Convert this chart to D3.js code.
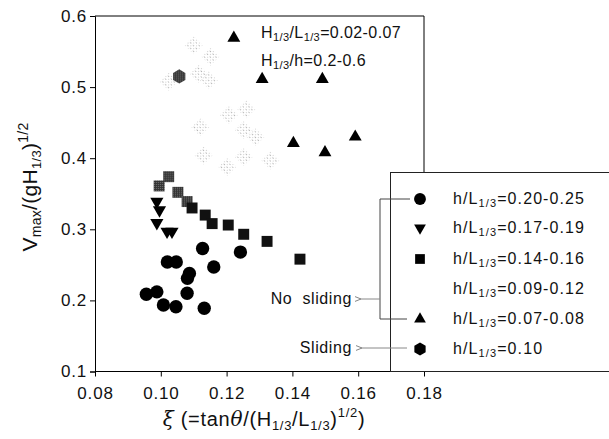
<!DOCTYPE html>
<html><head><meta charset="utf-8">
<script src="https://cdn.jsdelivr.net/npm/d3@7"></script>
<style>
body{margin:0;background:#fff;}
svg{display:block;font-family:"Liberation Sans",Arial,sans-serif;}
</style></head>
<body><svg id="c" width="609" height="439"></svg>
<script>
// ---- data ----
const circX = [0.0956, 0.0988, 0.1008, 0.1046, 0.1080, 0.1087, 0.1081, 0.1020, 0.1047, 0.1127, 0.1161, 0.1132, 0.1242];
const circY = [0.2086, 0.212, 0.1935, 0.191, 0.210, 0.238, 0.231, 0.254, 0.254, 0.273, 0.247, 0.189, 0.268];
const downX = [0.0988, 0.0996, 0.0988, 0.1019, 0.1034];
const downY = [0.339, 0.327, 0.309, 0.297, 0.297];
const sqX = [0.1024, 0.0995, 0.1052, 0.1080, 0.1095, 0.1135, 0.1156, 0.1205, 0.1252, 0.1323, 0.1423];
const sqY = [0.374, 0.361, 0.352, 0.339, 0.330, 0.320, 0.308, 0.306, 0.293, 0.283, 0.258];
const fadeX = [0.1100, 0.1151, 0.1024, 0.1115, 0.1146, 0.1207, 0.1260, 0.1120, 0.1252, 0.1288, 0.1130, 0.1202, 0.1252, 0.1333];
const fadeY = [0.559, 0.543, 0.508, 0.519, 0.510, 0.461, 0.469, 0.444, 0.440, 0.430, 0.404, 0.388, 0.402, 0.397];
const upX = [0.1222, 0.1308, 0.1403, 0.1491, 0.1591, 0.1499];
const upY = [0.569, 0.511, 0.421, 0.511, 0.430, 0.408];
const hexX = [0.1056];
const hexY = [0.515];
const xTicks = [0.08, 0.10, 0.12, 0.14, 0.16, 0.18];
const yTicks = [0.1, 0.2, 0.3, 0.4, 0.5, 0.6];
const legendLabels = ["0.20-0.25", "0.17-0.19", "0.14-0.16", "0.09-0.12", "0.07-0.08", "0.10"];

// ---- layout ----
const svg = d3.select("#c");
const x = d3.scaleLinear().domain([0.08, 0.18]).range([95, 424]);
const y = d3.scaleLinear().domain([0.1, 0.6]).range([371.5, 16]);

const defs = svg.append("defs");
const pat = defs.append("pattern").attr("id","dith").attr("width",4).attr("height",4).attr("patternUnits","userSpaceOnUse");
pat.append("rect").attr("x",0).attr("y",0).attr("width",1).attr("height",1).attr("fill","#b0b0b0");
pat.append("rect").attr("x",2).attr("y",2).attr("width",1).attr("height",1).attr("fill","#d0d0d0");
pat.append("rect").attr("x",3).attr("y",0).attr("width",1).attr("height",1).attr("fill","#e0e0e0");
const pat2 = defs.append("pattern").attr("id","dark").attr("width",2).attr("height",2).attr("patternUnits","userSpaceOnUse");
pat2.append("rect").attr("width",2).attr("height",2).attr("fill","#333");
pat2.append("rect").attr("x",1).attr("y",0).attr("width",1).attr("height",1).attr("fill","#777");

const hexType = {draw(ctx, size){ const r = Math.sqrt(size/ (1.5*Math.sqrt(3)));
  for(let i=0;i<6;i++){const a=Math.PI/6+i*Math.PI/3; const px=r*Math.cos(a), py=r*Math.sin(a); i?ctx.lineTo(px,py):ctx.moveTo(px,py);} ctx.closePath(); }};

const sym = (type,size)=>d3.symbol().type(type).size(size)();

// frame
const g = svg.append("g").attr("stroke","#000").attr("stroke-width",1).attr("fill","none");
g.append("line").attr("x1",x(0.08)).attr("x2",x(0.18)).attr("y1",y(0.6)).attr("y2",y(0.6));
g.append("line").attr("x1",x(0.18)).attr("x2",x(0.18)).attr("y1",y(0.6)).attr("y2",y(0.1));

// axes
const xAxis = svg.append("g").attr("transform",`translate(0,${y(0.1)})`)
  .call(d3.axisBottom(x).tickValues(xTicks).tickFormat(d3.format(".2f")).tickSizeOuter(0).tickSize(5).tickPadding(10));
xAxis.select(".domain").attr("d",`M${x(0.08)},0H609`);
const yAxis = svg.append("g").attr("transform",`translate(${x(0.08)},0)`)
  .call(d3.axisLeft(y).tickValues(yTicks).tickFormat(d3.format(".1f")).tickSizeOuter(0).tickSize(5).tickPadding(3));
svg.selectAll(".tick text").attr("font-size",17).attr("font-family","Liberation Sans, Arial, sans-serif").attr("fill","#111").attr("letter-spacing","0.8px");

// axis titles
const xt = svg.append("text").attr("x",264).attr("y",426).attr("text-anchor","middle").attr("font-size",20).attr("fill","#111").attr("letter-spacing","0.7px");
xt.append("tspan").attr("font-family","DejaVu Serif, serif").attr("font-style","italic").text("ξ");
xt.append("tspan").text("\u00a0(=tan");
xt.append("tspan").attr("font-family","DejaVu Serif, serif").attr("font-style","italic").text("θ");
xt.append("tspan").text("/(H");
xt.append("tspan").attr("font-size",13).attr("dy",4).text("1/3");
xt.append("tspan").attr("dy",-4).text("/L");
xt.append("tspan").attr("font-size",13).attr("dy",4).text("1/3");
xt.append("tspan").attr("dy",-4).text(")");
xt.append("tspan").attr("font-size",13).attr("dy",-9).text("1/2");
xt.append("tspan").attr("dy",9).text(")");

const yt = svg.append("text").attr("transform","translate(37,187) rotate(-90)").attr("text-anchor","middle").attr("font-size",21).attr("fill","#111").attr("letter-spacing","0.3px");
yt.append("tspan").text("V");
yt.append("tspan").attr("font-size",14).attr("dy",4).text("max");
yt.append("tspan").attr("dy",-4).text("/(gH");
yt.append("tspan").attr("font-size",13).attr("dy",4).text("1/3");
yt.append("tspan").attr("dy",-4).text(")");
yt.append("tspan").attr("font-size",14).attr("dy",-9).text("1/2");

// annotations
function subText(sel, parts, sfs){
  parts.forEach(p=>{
    if(p.sub) sel.append("tspan").attr("font-size",sfs).attr("dy",3).text(p.t);
    else sel.append("tspan").attr("dy",p.back?-3:0).text(p.t);
  });
}
const a1 = svg.append("text").attr("x",261).attr("y",38).attr("font-size",16).attr("fill","#111").attr("letter-spacing","0.4px");
subText(a1,[{t:"H"},{t:"1/3",sub:1},{t:"/L",back:1},{t:"1/3",sub:1},{t:"=0.02-0.07",back:1}],11);
const a2 = svg.append("text").attr("x",261).attr("y",66).attr("font-size",16).attr("fill","#111").attr("letter-spacing","0.4px");
subText(a2,[{t:"H"},{t:"1/3",sub:1},{t:"/h=0.2-0.6",back:1}],11);

// faded series (0.09-0.12)
svg.append("g").selectAll("path").data(d3.range(fadeX.length)).join("path")
  .attr("transform",i=>`translate(${x(fadeX[i])},${y(fadeY[i])}) rotate(45)`)
  .attr("d",sym(d3.symbolSquare,170)).attr("fill","url(#dith)");

// series
svg.append("g").selectAll("path").data(d3.range(sqX.length)).join("path")
  .attr("transform",i=>`translate(${x(sqX[i])},${y(sqY[i])})`)
  .attr("d",sym(d3.symbolSquare,120)).attr("fill",i=>sqY[i]>0.33?"url(#dark)":"#111");
svg.append("g").selectAll("path").data(d3.range(downX.length)).join("path")
  .attr("transform",i=>`translate(${x(downX[i])},${y(downY[i])}) rotate(180)`)
  .attr("d",sym(d3.symbolTriangle,75)).attr("fill","#000");
svg.append("g").selectAll("path").data(d3.range(circX.length)).join("path")
  .attr("transform",i=>`translate(${x(circX[i])},${y(circY[i])})`)
  .attr("d",sym(d3.symbolCircle,140)).attr("fill","#000");
svg.append("g").selectAll("path").data(d3.range(upX.length)).join("path")
  .attr("transform",i=>`translate(${x(upX[i])},${y(upY[i])})`)
  .attr("d",sym(d3.symbolTriangle,72)).attr("fill","#000");
svg.append("g").selectAll("path").data(d3.range(hexX.length)).join("path")
  .attr("transform",i=>`translate(${x(hexX[i])},${y(hexY[i])})`)
  .attr("d",sym(hexType,130)).attr("fill","url(#dark)");

// legend
svg.append("rect").attr("x",390.5).attr("y",172.5).attr("width",240).attr("height",y(0.1)-172.5)
  .attr("fill","#fff").attr("stroke","#222").attr("stroke-width",1);
const legY = [199, 228, 259, 289, 319, 349];
const legSym = [[d3.symbolCircle,110,0],[d3.symbolTriangle,60,180],[d3.symbolSquare,95,0],null,[d3.symbolTriangle,60,0],[hexType,110,0]];
legendLabels.forEach((lab,i)=>{
  const s = legSym[i];
  if(s) svg.append("path").attr("transform",`translate(420,${legY[i]}) rotate(${s[2]})`).attr("d",sym(s[0],s[1])).attr("fill","#000");
  const t = svg.append("text").attr("x",453).attr("y",legY[i]+5).attr("font-size",16).attr("fill","#111").attr("letter-spacing","1.1px");
  subText(t,[{t:"h/L"},{t:"1/3",sub:1},{t:"="+lab,back:1}],11);
});

// bracket & arrows
const br = svg.append("g").attr("stroke","#444").attr("stroke-width",1).attr("fill","none");
br.append("path").attr("d",`M410,${legY[0]}H380V${legY[4]}H407`);
defs.append("marker").attr("id","arr").attr("viewBox","0 0 10 10").attr("refX",0).attr("refY",5)
  .attr("markerWidth",8).attr("markerHeight",6).attr("orient","auto-start-reverse")
  .append("path").attr("d","M10,1L0,5L10,9").attr("fill","none").attr("stroke","#555").attr("stroke-width",1.2);
br.append("line").attr("x1",380).attr("x2",361).attr("y1",299).attr("y2",299).attr("marker-end","url(#arr)").attr("stroke","#888");
br.append("line").attr("x1",407).attr("x2",362).attr("y1",348).attr("y2",348).attr("marker-end","url(#arr)").attr("stroke","#888");
svg.append("text").attr("x",352).attr("y",304).attr("text-anchor","end").attr("font-size",16).attr("fill","#111").attr("letter-spacing","0.6px").text("No\u00a0 sliding");
svg.append("text").attr("x",352).attr("y",353).attr("text-anchor","end").attr("font-size",16).attr("fill","#111").attr("letter-spacing","0.6px").text("Sliding");
</script></body></html>
